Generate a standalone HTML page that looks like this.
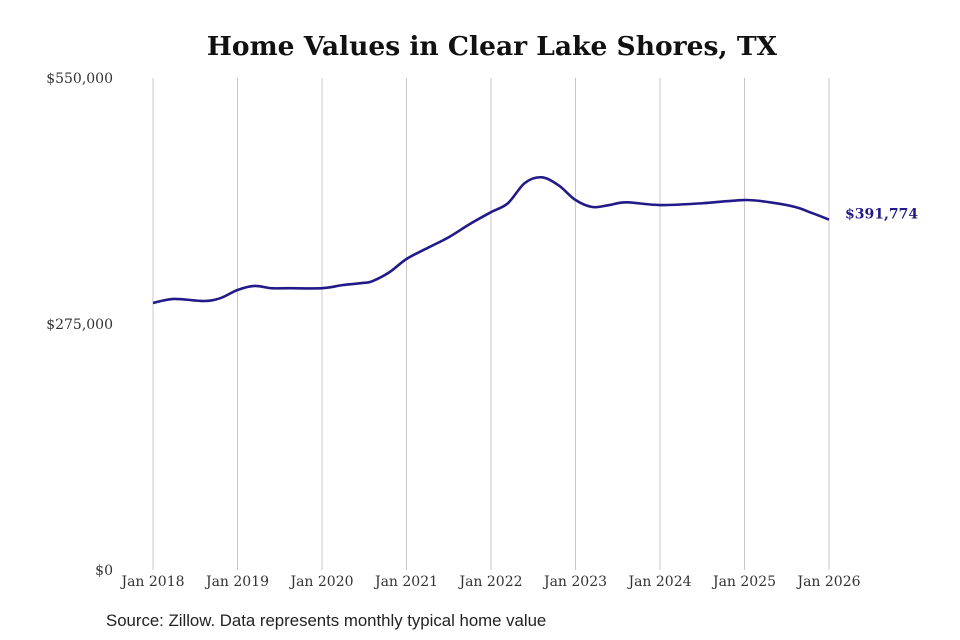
<!DOCTYPE html>
<html><head><meta charset="utf-8">
<style>
body{margin:0;background:#fff;}
svg{display:block;font-family:"DejaVu Serif","Liberation Serif",serif;}
</style></head>
<body>
<svg id="chart" width="960" height="640" viewBox="0 0 960 640">
<text x="492" y="55" text-anchor="middle" font-size="26.5" font-weight="bold" fill="#111">Home Values in Clear Lake Shores, TX</text>
<g id="grid"></g>
<g id="yticks"></g>
<g id="xticks"></g>
<path id="line" fill="none" stroke="#231a8a" stroke-width="2.6"/>
<text id="endlabel" font-size="14" font-weight="bold" fill="#231a8a"></text>
<text x="106" y="626" font-family="Liberation Sans, sans-serif" font-size="16.8" fill="#222">Source: Zillow. Data represents monthly typical home value</text>
</svg>
<script>
const years=[2018,2019,2020,2021,2022,2023,2024,2025,2026];
const yTickValues=[0,275000,550000];
const yTickLabels=["$0","$275,000","$550,000"];
const dates=[2018.0,2018.25,2018.6,2018.8,2019.0,2019.2,2019.4,2019.6,2020.0,2020.25,2020.5,2020.6,2020.8,2021.0,2021.25,2021.5,2021.75,2022.0,2022.2,2022.4,2022.6,2022.8,2023.0,2023.2,2023.4,2023.6,2024.0,2024.5,2025.0,2025.3,2025.6,2025.8,2026.0];
const values=[298500,303000,300700,304000,313000,317500,315000,315000,315000,318600,321000,323000,333000,347700,360000,372000,386800,400000,410000,432600,439000,430000,413600,405800,408000,411000,408000,410000,413600,411000,405800,399000,391774];
const latestLabel="$391,774";

const NS="http://www.w3.org/2000/svg";
const x=t=>153+(t-2018)*(829-153)/8;
const y=v=>570-v*(570-78)/550000;
function mk(tag,attrs,parent){const e=document.createElementNS(NS,tag);for(const k in attrs)e.setAttribute(k,attrs[k]);parent.appendChild(e);return e;}
const grid=document.getElementById('grid'),xt=document.getElementById('xticks'),yt=document.getElementById('yticks');
years.forEach(yr=>{
  const l=mk('line',{x1:x(yr),x2:x(yr),y1:78,y2:570,stroke:'#c8c8c8','stroke-width':1},grid);
  
  
  const t=mk('text',{x:x(yr),y:586,'text-anchor':'middle','font-size':14,fill:'#333'},xt);
  t.textContent='Jan '+yr;
  
  
});
yTickValues.forEach((v,i)=>{
  const t=mk('text',{x:113,y:y(v)+5,'text-anchor':'end','font-size':14,fill:'#333'},yt);
  t.textContent=yTickLabels[i];
  
  
});
const pts=dates.map((d,i)=>[x(d),y(values[i])]);
let d='M'+pts[0][0]+','+pts[0][1];
for(let i=0;i<pts.length-1;i++){
  const p0=pts[Math.max(i-1,0)],p1=pts[i],p2=pts[i+1],p3=pts[Math.min(i+2,pts.length-1)];
  const c1=[p1[0]+(p2[0]-p0[0])/6,p1[1]+(p2[1]-p0[1])/6];
  const c2=[p2[0]-(p3[0]-p1[0])/6,p2[1]-(p3[1]-p1[1])/6];
  d+=` C${c1[0]},${c1[1]} ${c2[0]},${c2[1]} ${p2[0]},${p2[1]}`;
}
document.getElementById('line').setAttribute('d',d);
const el=document.getElementById('endlabel');
const last=pts[pts.length-1];
el.setAttribute('x',last[0]+16);el.setAttribute('y',last[1]-1);
el.textContent=latestLabel;
</script>
</body></html>
